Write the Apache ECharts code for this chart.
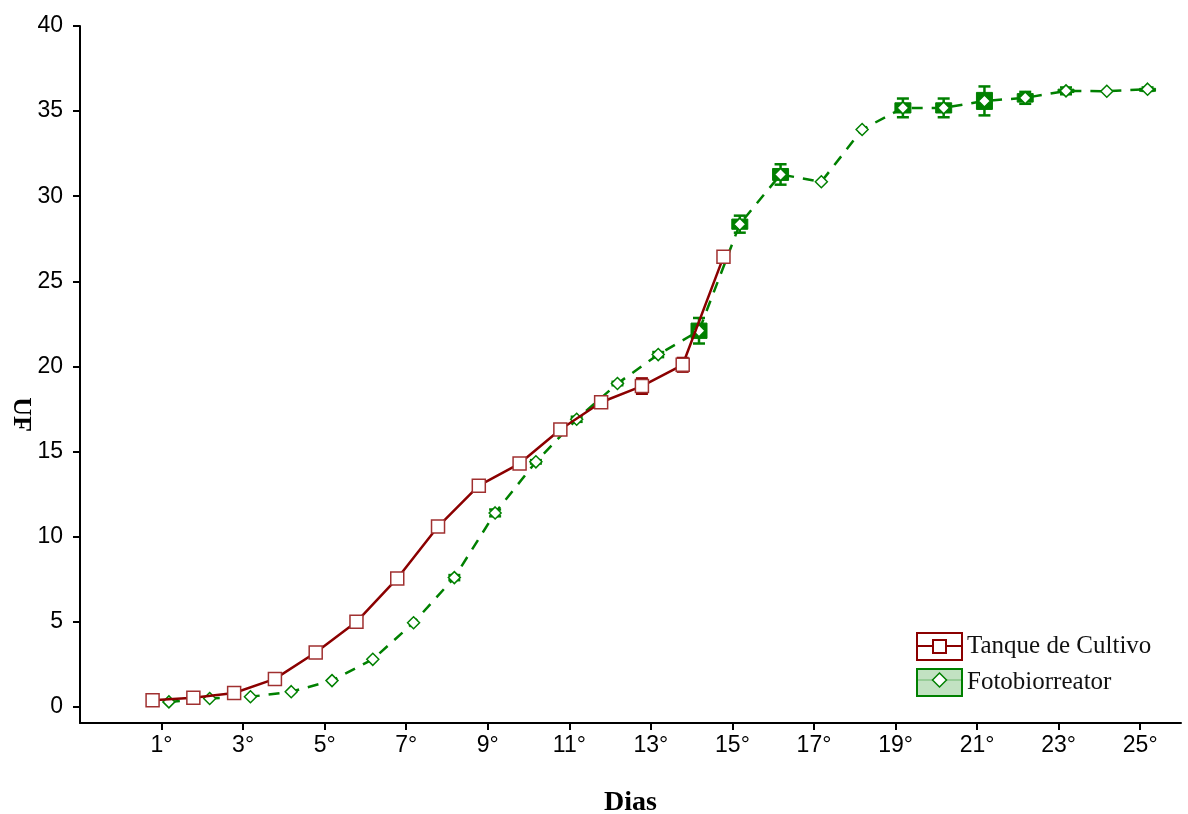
<!DOCTYPE html>
<html>
<head>
<meta charset="utf-8">
<script src="https://cdn.jsdelivr.net/npm/echarts@6/dist/echarts.min.js"></script>
<style>html,body{margin:0;padding:0;background:#fff}#c{width:1188px;height:814px}</style>
</head>
<body>
<div id="c"></div>
<script>
// ---- data ----
const redDays = [1,2,3,4,5,6,7,8,9,10,11,12,13,14,15];
const redValues = [0.4,0.55,0.82,1.65,3.2,5.0,7.55,10.6,13.0,14.3,16.3,17.9,18.85,20.1,26.44];
const redErr = [0,0,0,0,0,0,0,0,0.3,0,0.12,0,0.45,0.4,0.1];

const greenDays = [1,2,3,4,5,6,7,8,9,10,11,12,13,14,15,16,17,18,19,20,21,22,23,24,25];
const greenValues = [0.3,0.5,0.6,0.9,1.55,2.8,4.95,7.6,11.4,14.4,16.9,19.0,20.7,22.1,28.36,31.28,30.85,33.92,35.19,35.19,35.6,35.78,36.19,36.17,36.29];
const greenErr = [0,0,0,0,0,0,0,0.15,0.2,0.1,0.15,0.1,0.15,0.75,0.5,0.6,0,0,0.55,0.55,0.85,0.35,0.2,0,0.1];
const greenBox = [0,0,0,0,0,0,0,0,0,0,0,0,0,0.45,0.3,0.35,0,0,0.3,0.3,0.5,0.25,0.1,0,0.05];

const xTickValues = [1,3,5,7,9,11,13,15,17,19,21,23,25];
const yTickValues = [0,5,10,15,20,25,30,35,40];

const seriesNames = ['Tanque de Cultivo','Fotobiorreator'];
const RED = '#8b0000';
const GREEN = '#008000';
const redShift = -0.22, greenShift = 0.18;

function errRender(color, shift) {
  return function (params, api) {
    const x = api.value(0) + shift;
    const y = api.value(1);
    const e = api.value(2);
    const b = api.value(3);
    const children = [];
    if (b > 0) {
      const p1 = api.coord([x, y + b]);
      const p2 = api.coord([x, y - b]);
      const hw = 8;
      children.push({type:'rect', shape:{x:p1[0]-hw, y:p1[1], width:hw*2, height:Math.max(p2[1]-p1[1],3)},
        style:{fill:color, stroke:color, lineWidth:1}});
    }
    if (e > 0) {
      const top = api.coord([x, y + e]);
      const bot = api.coord([x, y - e]);
      const cw = 6;
      children.push({type:'line', shape:{x1:top[0], y1:top[1], x2:bot[0], y2:bot[1]}, style:{stroke:color, lineWidth:2.5}});
      children.push({type:'line', shape:{x1:top[0]-cw, y1:top[1], x2:top[0]+cw, y2:top[1]}, style:{stroke:color, lineWidth:2.5}});
      children.push({type:'line', shape:{x1:bot[0]-cw, y1:bot[1], x2:bot[0]+cw, y2:bot[1]}, style:{stroke:color, lineWidth:2.5}});
    }
    return {type:'group', children};
  };
}

const redData = redDays.map((d,i)=>[d+redShift, redValues[i]]);
const greenData = greenDays.map((d,i)=>[d+greenShift, greenValues[i]]);
const redErrData = redDays.map((d,i)=>[d, redValues[i], redErr[i], 0]);
const greenErrData = greenDays.map((d,i)=>[d, greenValues[i], greenErr[i], greenBox[i]]);

const chart = echarts.init(document.getElementById('c'), null, {renderer:'canvas'});
chart.setOption({
  backgroundColor:'#fff',
  animation:false,
  grid:{left:80, right:7, top:26, bottom:91, containLabel:false, outerBoundsMode:'none'},
  xAxis:{
    type:'value', min:-1, max:26,
    name:'Dias', nameLocation:'middle', nameGap:66,
    nameTextStyle:{fontFamily:'Liberation Serif', fontWeight:'bold', fontSize:28, color:'#000'},
    axisLine:{show:true, onZero:false, lineStyle:{color:'#000', width:2}},
    axisTick:{show:true, length:7, lineStyle:{color:'#000', width:2}, customValues:xTickValues},
    axisLabel:{color:'#000', fontFamily:'Liberation Sans', fontSize:23, margin:11, customValues:xTickValues,
      formatter:v=>v+'°'},
    splitLine:{show:false}
  },
  yAxis:{
    type:'value', min:-0.94, max:40,
    name:'UF', nameLocation:'middle', nameGap:46, nameRotate:-90, nameMoveOverlap:false,
    nameTextStyle:{fontFamily:'Liberation Serif', fontWeight:'bold', fontSize:26, color:'#000', padding:[0,0,0,80]},
    axisLine:{show:true, onZero:false, lineStyle:{color:'#000', width:2}},
    axisTick:{show:true, length:7, lineStyle:{color:'#000', width:2}, customValues:yTickValues},
    axisLabel:{color:'#000', fontFamily:'Liberation Sans', fontSize:23, margin:17, customValues:yTickValues},
    splitLine:{show:false}
  },
  legend:{
    orient:'vertical', left:911, top:627, itemWidth:45, itemHeight:27, itemGap:7,
    textStyle:{fontFamily:'Liberation Serif', fontSize:25, color:'#111'},
    data:[
      {name:seriesNames[0], icon:'rect', itemStyle:{color:'#fff', borderColor:RED, borderWidth:2}},
      {name:seriesNames[1], icon:'rect', itemStyle:{color:'#c2e2c2', borderColor:GREEN, borderWidth:2}}
    ]
  },
  graphic:[
    {type:'line', shape:{x1:918, y1:646, x2:961, y2:646}, style:{stroke:RED, lineWidth:2}, z:100},
    {type:'rect', shape:{x:933, y:640, width:13, height:13}, style:{fill:'#fff', stroke:RED, lineWidth:2}, z:101},
    {type:'line', shape:{x1:918, y1:680, x2:961, y2:680}, style:{stroke:'#6fb86f', lineWidth:1}, z:100},
    {type:'polygon', shape:{points:[[939.5,673],[946.5,680],[939.5,687],[932.5,680]]}, style:{fill:'#fff', stroke:GREEN, lineWidth:1.5}, z:101}
  ],
  series:[
    {type:'custom', name:seriesNames[1]+' err', data:greenErrData, renderItem:errRender(GREEN, greenShift), z:3, silent:true, encode:{x:0,y:1}},
    {type:'line', name:seriesNames[1], data:greenData, z:4,
      lineStyle:{color:GREEN, width:2.5, type:[11,9]},
      symbol:'diamond', symbolSize:12, showSymbol:true,
      itemStyle:{color:'#fff', borderColor:GREEN, borderWidth:1.5}},
    {type:'custom', name:seriesNames[0]+' err', data:redErrData, renderItem:errRender(RED, redShift), z:5, silent:true, encode:{x:0,y:1}},
    {type:'line', name:seriesNames[0], data:redData, z:6,
      lineStyle:{color:RED, width:2.5},
      symbol:'rect', symbolSize:13, showSymbol:true,
      itemStyle:{color:'#fff', borderColor:'#a03030', borderWidth:1.5}}
  ]
});
</script>
</body>
</html>
